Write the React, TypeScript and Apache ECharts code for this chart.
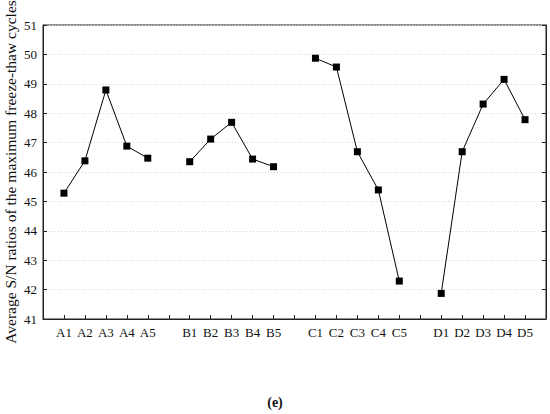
import React, { useEffect, useRef } from "react";
import * as echarts from "echarts";

const categories = ["", "A1", "A2", "A3", "A4", "A5", "", "B1", "B2", "B3", "B4", "B5", "", "C1", "C2", "C3", "C4", "C5", "", "D1", "D2", "D3", "D4", "D5", ""];
const aValues = [45.28, 46.38, 48.79, 46.88, 46.47];
const bValues = [46.35, 47.12, 47.69, 46.44, 46.18];
const cValues = [49.87, 49.57, 46.69, 45.39, 42.29];
const dValues = [41.87, 46.69, 48.31, 49.15, 47.78];
const yTicks = [41, 42, 43, 44, 45, 46, 47, 48, 49, 50, 51];

const FONT = "Liberation Serif";

export default function App() {
  const ref = useRef<HTMLDivElement>(null);
  useEffect(() => {
    if (!ref.current) return;
    const chart = echarts.init(ref.current, null, { renderer: "svg" });
    const groups = [aValues, bValues, cValues, dValues];
    const series = groups.map((vals, gi) => {
      const data: (number | null)[] = categories.map(() => null);
      vals.forEach((v, i) => {
        data[1 + gi * 6 + i] = v;
      });
      return {
        type: "line",
        data,
        connectNulls: false,
        symbol: "rect",
        symbolSize: 7,
        itemStyle: { color: "#000" },
        lineStyle: { color: "#000", width: 1 },
      };
    });
    chart.setOption({
      animation: false,
      backgroundColor: "#fff",
      grid: {
        left: 43,
        top: 25,
        right: 4,
        bottom: 95,
        containLabel: false,
        outerBoundsMode: "none",
        show: true,
        borderColor: "#222",
        borderWidth: 1,
      },
      xAxis: {
        type: "category",
        data: categories,
        boundaryGap: false,
        axisLine: { lineStyle: { color: "#222", width: 1 } },
        axisTick: { inside: true, length: 4, lineStyle: { color: "#222" }, interval: 0 },
        axisLabel: { interval: 0, color: "#111", fontFamily: FONT, fontSize: 13, margin: 7 },
        splitLine: { show: false },
      },
      yAxis: [
        {
          type: "value",
          min: yTicks[0],
          max: yTicks[yTicks.length - 1],
          interval: 1,
          axisLine: { show: true, lineStyle: { color: "#222", width: 1 } },
          axisTick: { show: true, inside: true, length: 4, lineStyle: { color: "#222" } },
          axisLabel: { color: "#111", fontFamily: FONT, fontSize: 13, margin: 6 },
          splitLine: { show: true, lineStyle: { color: "#d4d4d4", type: [1, 2], width: 1 } },
          name: "Average S/N ratios of the maximum freeze-thaw cycles",
          nameLocation: "middle",
          nameGap: 25,
          nameMoveOverlap: false,
          nameTextStyle: { fontFamily: FONT, fontSize: 15.5, color: "#111" },
        },
        {
          type: "value",
          position: "right",
          min: yTicks[0],
          max: yTicks[yTicks.length - 1],
          interval: 1,
          axisLine: { show: true, lineStyle: { color: "#222", width: 1 } },
          axisTick: { show: true, inside: true, length: 4, lineStyle: { color: "#222" } },
          axisLabel: { show: false },
          splitLine: { show: false },
        },
      ],
      series,
      graphic: [
        {
          type: "text",
          left: "center",
          top: 395,
          style: {
            text: "(e)",
            font: "bold 14px " + FONT,
            fill: "#111",
          },
        },
      ],
    });
    return () => chart.dispose();
  }, []);
  return (
    <div style={{ position: "fixed", left: 0, top: 0, width: 550, height: 414 }}>
      <div ref={ref} style={{ width: 550, height: 414 }} />
    </div>
  );
}
